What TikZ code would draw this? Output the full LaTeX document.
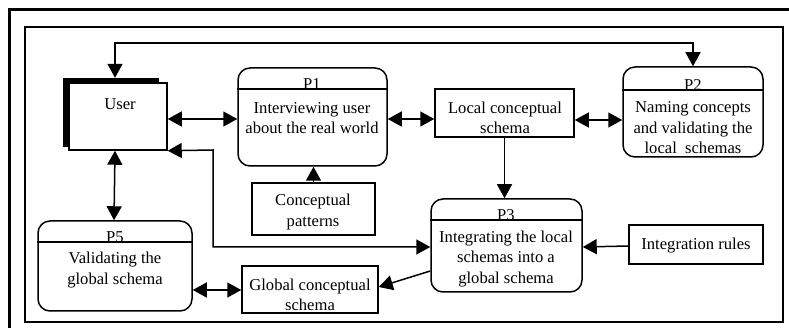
\documentclass[tikz,border=0pt]{standalone}
\usepackage{fontspec}
\setmainfont{Liberation Serif}
\usetikzlibrary{arrows.meta,calc}
\begin{document}
\begin{tikzpicture}[x=1pt,y=-1pt,
  dl/.style={line width=1.5pt},
  rbox/.style={draw, dl, fill=white, rectangle, inner sep=0pt},
  proc/.style={draw, dl, fill=white, rectangle, rounded corners=12pt, inner sep=0pt},
  txt/.style={align=center, font=\fontsize{16.6}{20.5}\selectfont, inner sep=0pt},
  arr/.style={dl, -{Triangle[length=14pt,width=15pt]}},
  darr/.style={dl, {Triangle[length=14pt,width=15pt]}-{Triangle[length=14pt,width=15pt]}}
]
\useasboundingbox (0,0) rectangle (789,328);
\fill[white] (0,0) rectangle (789,328);
% frames
\draw[line width=3pt] (9,329) -- (9,10) -- (790,10);
\draw[line width=2pt] (25,27) rectangle (783,322);

% user with shadow
\node[fill=black, rectangle, inner sep=0pt, minimum width=96pt, minimum height=69pt] (shadow) at (111,112.5) {};
\node[rbox, minimum width=98pt, minimum height=67pt] (User) at (118,116.5) {};
\node[txt] (usertxt) at (120,104) {User};

% P1
\node[proc, minimum width=149pt, minimum height=98pt] (P1) at (312.5,117) {};
\draw[dl] ([yshift=-22pt]P1.north west) -- ([yshift=-22pt]P1.north east);
\node[txt, anchor=base] (p1l) at (312,90) {P1};
\node[txt] (p1t) at (312,118) {Interviewing user\\about the real world};

% Local
\node[rbox, minimum width=139pt, minimum height=48pt] (Local) at (504.5,113) {};
\node[txt] (loct) at (505,118) {Local conceptual\\schema};

% P2
\node[proc, minimum width=140pt, minimum height=90pt] (P2) at (693,112) {};
\draw[dl] ([yshift=-24pt]P2.north west) -- ([yshift=-24pt]P2.north east);
\node[txt, anchor=base] (p2l) at (693,90.5) {P2};
\node[txt] (p2t) at (693,128) {Naming concepts\\and validating the\\local\ \ schemas};

% Conceptual patterns
\node[rbox, minimum width=123pt, minimum height=52pt] (Patterns) at (313.5,209) {};
\node[txt] (patt) at (313,212) {Conceptual\\patterns};

% P3
\node[proc, minimum width=151pt, minimum height=93pt] (P3) at (506.5,245.5) {};
\draw[dl] ([yshift=-22pt]P3.north west) -- ([yshift=-22pt]P3.north east);
\node[txt, anchor=base] (p3l) at (506,220.5) {P3};
\node[txt] (p3t) at (506,259) {Integrating the local\\schemas into a\\global schema};

% Integration rules
\node[rbox, minimum width=134pt, minimum height=39pt] (Integ) at (696,244.5) {};
\node[txt] (intt) at (696,246) {Integration rules};

% Global
\node[rbox, minimum width=136pt, minimum height=47pt] (Global) at (310,289.5) {};
\node[txt] (glot) at (310,295) {Global conceptual\\schema};

% P5
\node[proc, minimum width=154pt, minimum height=90pt] (P5) at (115,266) {};
\draw[dl] ([yshift=-22pt]P5.north west) -- ([yshift=-22pt]P5.north east);
\node[txt, anchor=base] (p5l) at (115,242.5) {P5};
\node[txt] (p5t) at (115,270) {Validating the\\global\ schema};

% connectors
\draw[darr] (shadow.north -| 115,0) -- (115,43) -| (P2.north);
\draw[darr] (User.east |- 0,119) -- (P1.west |- 0,119);
\draw[darr] (P1.east |- 0,119) -- (Local.west |- 0,119);
\draw[darr] (Local.east |- 0,120) -- (P2.west |- 0,120);
\draw[darr] (User.south east) -- (213,150) |- (P3.west |- 0,247);
\draw[arr] (Patterns.north) -- (Patterns.north |- P1.south);
\draw[arr] (Local.south) -- (Local.south |- P3.north);
\draw[arr] (Integ.west |- 0,246) -- (P3.east |- 0,247);
\draw[arr] (P3.west |- 0,271) -- (Global.east |- 0,287);
\draw[darr] (P5.east |- 0,290) -- (Global.west |- 0,290);
\draw[darr] (User.south -| 115,0) -- (P5.north -| 114,0);
\end{tikzpicture}
\end{document}
